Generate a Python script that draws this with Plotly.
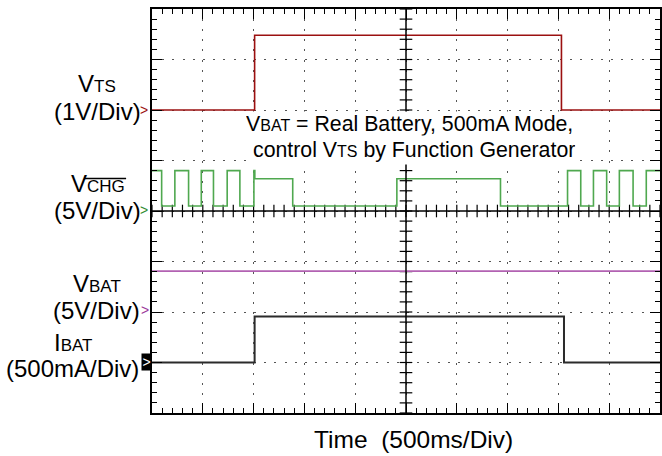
import numpy as np
import plotly.graph_objects as go

# scope channels: time in ms (500 ms/div), level in channel units
# ground position of each channel is given in divisions from the bottom
vts_t = [0, 1010, 4030, 5000]
vts_v = [0, 1.48, 0, 0]                      # V, 1 V/div, ground at div 6

vchg_t = [0, 95, 225, 360, 485, 605, 740, 865, 1003, 1012, 1385,
          2410, 3430, 4090, 4220, 4345, 4475, 4600, 4735, 4865, 5000]
vchg_v = [4.0, 0.5, 4.0, 0.5, 4.0, 0.5, 4.0, 0.5, 4.0, 3.2, 0.5,
          3.2, 0.5, 4.0, 0.5, 4.0, 0.5, 4.0, 0.5, 4.0, 4.0]   # V, 5 V/div, ground at div 4

vbat_t = [0, 5000]
vbat_v = [4.05, 4.05]                        # V, 5 V/div, ground at div 2

ibat_t = [0, 1010, 4055, 5000]
ibat_v = [0, 455, 0, 0]                      # mA, 500 mA/div, ground at div 1

channels = [
    # name, t, v, units/div, ground div, colour
    ("VTS", vts_t, vts_v, 1.0, 6, "#9b1010"),
    ("VCHG", vchg_t, vchg_v, 5.0, 4, "#4fa84f"),
    ("VBAT", vbat_t, vbat_v, 5.0, 2, "#b262b2"),
    ("IBAT", ibat_t, ibat_v, 500.0, 1, "#2b2b2b"),
]

W, H = 662, 456
L, R, T, B = 152, 0, 9, 43
pw, ph = W - L - R, H - T - B


def px(x):
    return (x - L) / pw


def py(y):
    return (H - B - y) / ph


fig = go.Figure()

# centre cross of the graticule with its small ticks
cx = np.arange(0, 5001, 100)
cy = np.arange(0, 8.01, 0.2)
fig.add_trace(go.Scatter(x=cx, y=[4] * len(cx), mode="markers", hoverinfo="skip",
                         marker=dict(symbol="line-ns", size=9,
                                     line=dict(width=1.2, color="black"))))
fig.add_trace(go.Scatter(x=[2500] * len(cy), y=cy, mode="markers", hoverinfo="skip",
                         marker=dict(symbol="line-ew", size=9,
                                     line=dict(width=1.2, color="black"))))
fig.add_shape(type="line", x0=0, x1=5000, y0=4, y1=4, line=dict(color="black", width=1.5))
fig.add_shape(type="line", x0=2500, x1=2500, y0=0, y1=8, line=dict(color="black", width=1.5))

for name, t, v, scale, gnd, col in channels:
    fig.add_trace(go.Scatter(x=t, y=[val / scale + gnd for val in v], mode="lines",
                             line=dict(color=col, width=2 if name == "IBAT" else 1.6,
                                       shape="hv"),
                             name=name))

font = "Liberation Sans, Arial, sans-serif"
sub = "<span style='font-size:17px'>%s</span>"
sub_s = "<span style='font-size:16px'>%s</span>"

labels = [
    ("V" + sub % "TS", 97, 83),
    ("(1V/Div)", 97, 111),
    ("V" + sub % "CHG", 98, 183),
    ("(5V/Div)", 97, 210),
    ("V" + sub % "BAT", 97, 283),
    ("(5V/Div)", 96, 310),
    ("I" + sub % "BAT", 73, 342.5),
    ("(500mA/Div)", 72, 368),
]
for txt, x, y in labels:
    fig.add_annotation(text=txt, x=px(x), y=py(y), xref="paper", yref="paper",
                       xanchor="center", yanchor="middle", showarrow=False,
                       font=dict(family=font, size=24, color="black"))

# overline on CHG
fig.add_shape(type="line", xref="paper", yref="paper", x0=px(84), x1=px(126),
              y0=py(178.5), y1=py(178.5), line=dict(color="black", width=1.3))

# channel markers
for x, y, col in [(143.5, 110, "#9b1010"), (143.5, 210, "#2e8b2e"), (144.5, 310, "#9b3a9b")]:
    fig.add_annotation(text=">", x=px(x), y=py(y), xref="paper", yref="paper",
                       xanchor="center", yanchor="middle", showarrow=False,
                       font=dict(family=font, size=14, color=col))
fig.add_annotation(text=">", x=px(146), y=py(362), xref="paper", yref="paper",
                   xanchor="center", yanchor="middle", showarrow=False,
                   bgcolor="black", width=9, height=16, borderpad=0,
                   font=dict(family=font, size=14, color="white"))

# note in the middle of the screen (white box kept clear of the VTS trace)
fig.add_annotation(text="V" + sub_s % "BAT" + " = Real Battery, 500mA Mode,",
                   x=px(410.5), y=py(124), xref="paper", yref="paper",
                   xanchor="center", yanchor="middle", showarrow=False,
                   bgcolor="white", borderpad=0, height=24,
                   font=dict(family=font, size=21.3, color="black"))
fig.add_annotation(text="control V" + sub_s % "TS" + " by Function Generator",
                   x=px(415), y=py(149.5), xref="paper", yref="paper",
                   xanchor="center", yanchor="middle", showarrow=False,
                   bgcolor="white", borderpad=0, height=28,
                   font=dict(family=font, size=21.3, color="black"))

fig.add_annotation(text="Time  (500ms/Div)", x=px(414.5), y=py(439.5),
                   xref="paper", yref="paper", xanchor="center", yanchor="middle",
                   showarrow=False, font=dict(family=font, size=24.5, color="black"))

fig.update_xaxes(range=[0, 5000], dtick=500, showticklabels=False,
                 showline=True, linecolor="black", linewidth=1.5, mirror="allticks",
                 ticks="inside", ticklen=10, tickwidth=1.2, tickcolor="black",
                 minor=dict(ticks="inside", dtick=100, ticklen=5, tickwidth=1.2,
                            tickcolor="black", showgrid=False),
                 showgrid=True, gridcolor="#555", gridwidth=1, griddash="2px,8.1px",
                 zeroline=False, fixedrange=True)
fig.update_yaxes(range=[0, 8], dtick=1, showticklabels=False,
                 showline=True, linecolor="black", linewidth=1.5, mirror="allticks",
                 ticks="inside", ticklen=10, tickwidth=1.2, tickcolor="black",
                 minor=dict(ticks="inside", dtick=0.2, ticklen=5, tickwidth=1.2,
                            tickcolor="black", showgrid=False),
                 showgrid=True, gridcolor="#555", gridwidth=1, griddash="2px,8.2px",
                 zeroline=False, fixedrange=True)

fig.update_layout(width=W, height=H, margin=dict(l=L, r=R, t=T, b=B),
                  paper_bgcolor="white", plot_bgcolor="white", showlegend=False,
                  font=dict(family=font))

# drop the browser's default page margin so the figure sits at the window corner
fig.write_html("out.html", config={"displayModeBar": False},
               post_script="document.body.style.margin='0';")
